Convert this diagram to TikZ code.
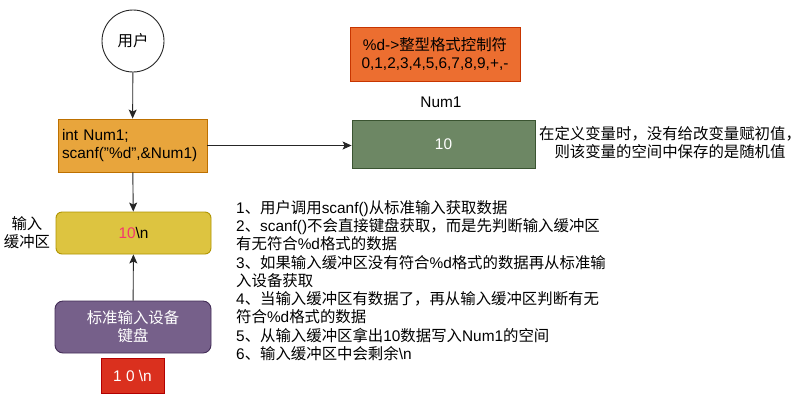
\documentclass[tikz,border=0pt]{standalone}
\usepackage{fontspec}
\setmainfont{Liberation Sans}
\newfontfamily\cjk{Noto Sans CJK SC}
\usetikzlibrary{arrows.meta}
\XeTeXinterchartokenstate=1
\newXeTeXintercharclass\zhcls
\newcount\zhc
\def\zhrange#1#2{\zhc=#1 \loop\XeTeXcharclass\zhc=\zhcls\ifnum\zhc<#2 \advance\zhc by 1 \repeat}
\zhrange{"3000}{"303F}
\zhrange{"4E00}{"9FFF}
\zhrange{"FF00}{"FFEF}
\XeTeXinterchartoks 0 \zhcls={\cjk}
\XeTeXinterchartoks 4095 \zhcls={\cjk}
\XeTeXinterchartoks \zhcls 0={\rmfamily}
\XeTeXinterchartoks \zhcls 4095={\rmfamily}
\definecolor{orbox}{RGB}{232,165,60}
\definecolor{orline}{RGB}{189,112,0}
\definecolor{redor}{RGB}{236,110,48}
\definecolor{redorline}{RGB}{199,53,0}
\definecolor{grn}{HTML}{6D8764}
\definecolor{grnline}{HTML}{3A5431}
\definecolor{yel}{RGB}{221,196,64}
\definecolor{yelline}{RGB}{176,149,0}
\definecolor{pur}{HTML}{76608A}
\definecolor{purline}{HTML}{432D57}
\definecolor{rd}{RGB}{218,48,30}
\definecolor{rdline}{RGB}{178,0,0}
\definecolor{pinktxt}{RGB}{245,55,110}
\tikzset{
  txt/.style={font=\fontsize{15.4}{18.3}\selectfont, inner sep=0pt},
  boxbase/.style={draw, line width=0.9pt, font=\fontsize{15.4}{18.3}\selectfont, inner sep=0pt},
  conn/.style={line width=0.9pt, draw=black!85, -{Stealth[length=9pt,width=8pt,inset=2pt]}}
}
\begin{document}
\begin{tikzpicture}[x=1pt,y=-1pt]
\useasboundingbox (0,0) rectangle (800,400);
\fill[white] (0,0) rectangle (800,400);
\node[boxbase, circle, fill=white, draw=black!85, minimum size=62pt] (user) at (133,41) {用户};
\node[boxbase, fill=orbox, draw=orline, minimum width=149pt, minimum height=53pt, text width=141pt, align=left] (code) at (132.5,145.5) {int Num1;\\scanf("\%d",\&Num1)};
\node[boxbase, fill=redor, draw=redorline, minimum width=170pt, minimum height=54pt, align=center] (fmt) at (435,54) {\%d->整型格式控制符\\0,1,2,3,4,5,6,7,8,9,+,-};
\node[txt] (numlbl) at (441,102) {Num1};
\node[boxbase, fill=grn, draw=grnline, text=white, minimum width=183pt, minimum height=48pt] (num) at (443.5,144) {10};
\node[txt, align=center] (note) at (670,142.5) {在定义变量时，没有给改变量赋初值，\\则该变量的空间中保存的是随机值};
\node[boxbase, fill=yel, draw=yelline, rounded corners=6pt, minimum width=155pt, minimum height=42pt] (buf) at (133.5,233) {\textcolor{pinktxt}{10}\textbackslash n};
\node[txt, align=center] (buflbl) at (27,232.5) {输入\\缓冲区};
\node[boxbase, fill=pur, draw=purline, text=white, rounded corners=8pt, minimum width=156pt, minimum height=52pt, align=center] (dev) at (133,327) {标准输入设备\\键盘};
\node[boxbase, fill=rd, draw=rdline, text=white, minimum width=63pt, minimum height=35pt] (kbd) at (132.5,375.5) {1 0 \textbackslash n};
\node[txt, align=left, anchor=west] (steps) at (236,280.5) {1、用户调用scanf()从标准输入获取数据\\2、scanf()不会直接键盘获取，而是先判断输入缓冲区\\有无符合\%d格式的数据\\3、如果输入缓冲区没有符合\%d格式的数据再从标准输\\入设备获取\\4、当输入缓冲区有数据了，再从输入缓冲区判断有无\\符合\%d格式的数据\\5、从输入缓冲区拿出10数据写入Num1的空间\\6、输入缓冲区中会剩余\textbackslash n};
\draw[conn] (user) -- (code);
\draw[conn] (code.east) -- (code.east -| num.west);
\draw[conn] (code) -- (buf);
\draw[conn] (dev) -- (buf);
\end{tikzpicture}
\end{document}
